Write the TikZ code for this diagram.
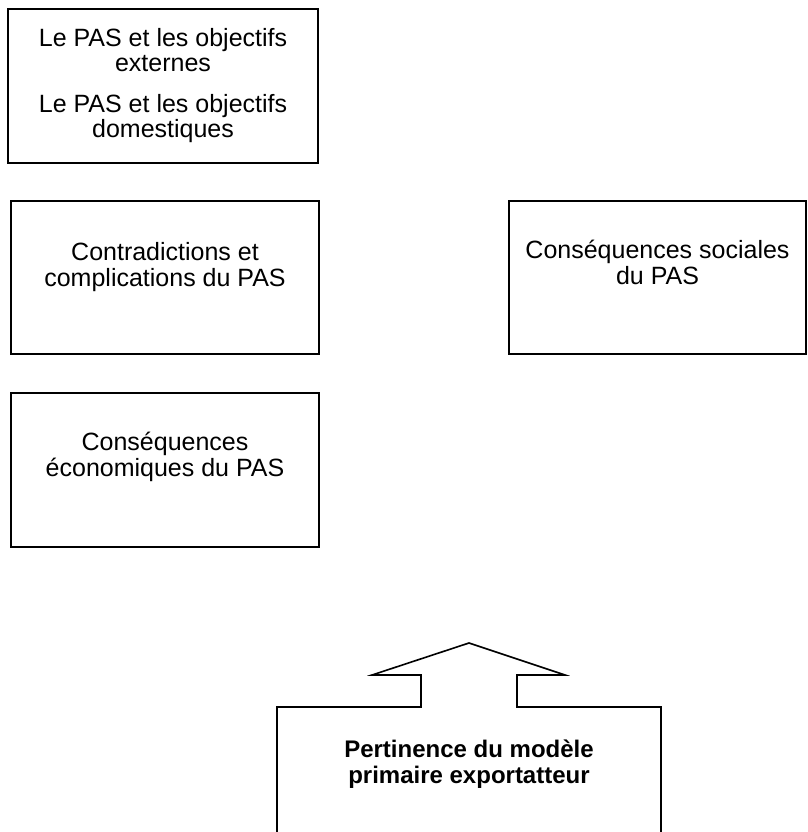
\documentclass[tikz,border=0pt]{standalone}
\usepackage{fontspec}
\setmainfont{Liberation Sans}
\usetikzlibrary{positioning}

\begin{document}
\begin{tikzpicture}[x=1pt, y=-1pt,
                    frame/.style={draw, line width=1.6pt, inner sep=0pt},
                    caption/.style={align=center, inner sep=0pt, font=\fontsize{25}{26}\selectfont},
                    bold caption/.style={align=center, inner sep=0pt, font=\fontsize{24}{26}\selectfont\bfseries},
                    outline/.style={draw, line width=1.6pt}]
        \useasboundingbox (0,0) rectangle (807,832);
        \clip (0,0) rectangle (807,832);
        \node[frame, minimum width=310pt, minimum height=154pt] (obj) at (163,86) {};
        \node[frame, minimum width=308pt, minimum height=153pt] (contra) at (165,277.5) {};
        \node[frame, minimum width=297pt, minimum height=153pt] (soc) at (657.5,277.5) {};
        \node[frame, minimum width=308pt, minimum height=154pt] (eco) at (165,470) {};
        \node[caption, anchor=base] (objtext) at ([yshift=-129pt]obj.north) {Le PAS et les objectifs\\[-1pt] externes\\[15pt] Le PAS et les objectifs\\[-1pt] domestiques};
        \node[caption, anchor=base] (contratext) at ([yshift=-86pt]contra.north) {Contradictions et\\ complications du PAS};
        \node[caption, anchor=base] (soctext) at ([yshift=-84pt]soc.north) {Conséquences sociales\\ du PAS};
        \node[caption, anchor=base] (ecotext) at ([yshift=-84pt]eco.north) {Conséquences\\ économiques du PAS};
        \node[bold caption, anchor=base] (pert) at (469,783) {Pertinence du modèle\\ primaire exportatteur};
        \draw[outline] (277,840) |- (421,707) |- (372,675) -- (469,643) -- (565,675) -| (517,707) -| (661,840);
    \end{tikzpicture}
\end{document}
